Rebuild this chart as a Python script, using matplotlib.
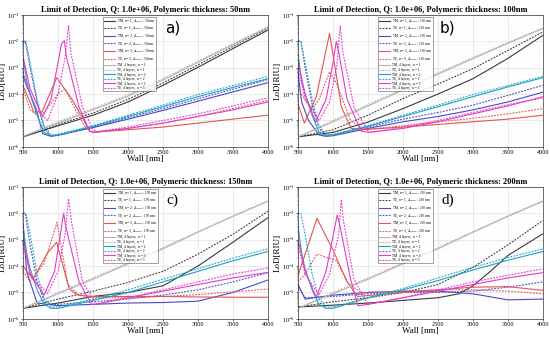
import numpy as np
import matplotlib
matplotlib.use("Agg")
import matplotlib.pyplot as plt
from matplotlib.ticker import LogLocator, NullFormatter

plt.rcParams['font.family'] = ['Liberation Serif', 'DejaVu Serif']
plt.rcParams['mathtext.fontset'] = 'stix'

# wall widths (nm) used for the smooth curves
wall = [500, 1000, 1500, 2000, 2500, 3000, 3500, 4000]
thickness = [50, 100, 150, 200]
panel_tags = ['a)', 'b)', 'c)', 'd)']

# values are log10(LoD [RIU]); each series is (wall, log10 LoD)
# ---- polymeric thickness 50 nm
p50 = {
    'TM1': (wall, [-5.62, -5.2, -4.8, -4.3, -3.67, -2.99, -2.28, -1.58]),
    'TE1': (wall, [-5.62, -5.15, -4.72, -4.2, -3.58, -2.9, -2.2, -1.52]),
    'TM2': ([500, 550, 600, 700, 780, 900, 1000, 1500, 2000, 2500, 3000, 3500, 4000],
            [-3.3, -3.7, -4.0, -4.7, -5.5, -5.6, -5.55, -5.27, -4.95, -4.62, -4.27, -3.92, -3.57]),
    'TE2': ([500, 530, 600, 700, 800, 900, 1000, 1500, 2000, 2500, 3000, 3500, 4000],
            [-2.0, -2.0, -3.0, -4.3, -5.3, -5.6, -5.57, -5.25, -4.9, -4.55, -4.18, -3.82, -3.45]),
    'TM3': ([500, 600, 650, 770, 980, 1200, 1350, 1450, 1500, 2000, 2500, 3000, 3500, 4000],
            [-3.7, -4.3, -4.68, -4.68, -3.38, -4.2, -4.9, -5.4, -5.45, -5.35, -5.25, -5.1, -4.95, -4.8]),
    'TE3': ([500, 600, 700, 800, 1000, 1100, 1250, 1400, 1500, 2000, 2500, 3000, 3500, 4000],
            [-3.8, -4.6, -4.8, -4.7, -4.0, -3.8, -4.6, -5.3, -5.45, -5.3, -5.1, -4.85, -4.55, -4.24]),
    'TM1_4L': (wall, [-5.6, -5.1, -4.6, -4.08, -3.47, -2.8, -2.13, -1.48]),
    'TE1_4L': (wall, [-5.6, -5.05, -4.55, -4.03, -3.42, -2.76, -2.1, -1.45]),
    'TM2_4L': ([500, 550, 600, 700, 800, 900, 1000, 1500, 2000, 2500, 3000, 3500, 4000],
               [-2.6, -3.5, -4.0, -4.8, -5.45, -5.58, -5.55, -5.22, -4.85, -4.48, -4.1, -3.75, -3.42]),
    'TE2_4L': ([500, 540, 600, 700, 800, 900, 1000, 1500, 2000, 2500, 3000, 3500, 4000],
               [-2.1, -2.0, -2.8, -4.2, -5.2, -5.55, -5.52, -5.2, -4.8, -4.42, -4.02, -3.68, -3.33]),
    'TM3_4L': ([500, 600, 700, 780, 900, 1050, 1090, 1120, 1300, 1450, 1500, 2000, 2500, 3000, 3500, 4000],
               [-2.6, -3.8, -4.4, -4.85, -4.2, -2.1, -1.98, -2.6, -4.5, -5.4, -5.45, -5.3, -5.1, -4.85, -4.6, -4.3]),
    'TE3_4L': ([500, 600, 700, 850, 1000, 1100, 1150, 1180, 1350, 1500, 1550, 2000, 2500, 3000, 3500, 4000],
               [-3.2, -4.0, -4.6, -5.0, -4.0, -2.6, -1.4, -2.4, -4.5, -5.35, -5.42, -5.25, -5.0, -4.75, -4.45, -4.14]),
}

# ---- polymeric thickness 100 nm
p100 = {
    'TM1': (wall, [-5.62, -5.45, -5.06, -4.55, -4.0, -3.42, -2.65, -1.78]),
    'TE1': (wall, [-5.62, -5.35, -4.8, -4.17, -3.62, -3.04, -2.35, -1.65]),
    'TM2': ([500, 550, 650, 800, 900, 1000, 1500, 2000, 2500, 3000, 3500, 4000],
            [-3.2, -4.3, -5.0, -5.55, -5.6, -5.58, -5.3, -5.05, -4.85, -4.6, -4.3, -3.93]),
    'TE2': ([500, 540, 600, 700, 800, 900, 1000, 1500, 2000, 2500, 3000, 3500, 4000],
            [-2.0, -2.0, -3.0, -4.4, -5.3, -5.55, -5.55, -5.25, -4.95, -4.7, -4.42, -4.05, -3.67]),
    'TM3': ([500, 590, 760, 950, 1120, 1260, 1400, 2000, 2500, 3000, 3500, 4000],
            [-4.4, -5.1, -4.1, -1.7, -4.5, -5.3, -5.35, -5.25, -5.15, -5.05, -4.95, -4.8]),
    'TE3': ([500, 690, 800, 950, 1050, 1250, 1450, 2000, 2500, 3000, 3500, 4000],
            [-3.8, -4.6, -4.2, -3.16, -3.6, -5.0, -5.35, -5.2, -5.05, -4.92, -4.75, -4.55]),
    'TM1_4L': (wall, [-5.62, -5.05, -4.45, -3.85, -3.25, -2.66, -2.08, -1.52]),
    'TE1_4L': (wall, [-5.62, -5.0, -4.4, -3.8, -3.2, -2.62, -2.05, -1.5]),
    'TM2_4L': ([500, 550, 600, 700, 800, 900, 1000, 1500, 2000, 2500, 3000, 3500, 4000],
               [-2.5, -3.5, -4.0, -4.8, -5.45, -5.58, -5.55, -5.22, -4.85, -4.48, -4.1, -3.73, -3.38]),
    'TE2_4L': ([500, 540, 600, 700, 800, 900, 1000, 1500, 2000, 2500, 3000, 3500, 4000],
               [-2.0, -2.0, -2.8, -4.2, -5.2, -5.55, -5.52, -5.2, -4.8, -4.42, -4.02, -3.68, -3.33]),
    'TM3_4L': ([500, 600, 750, 900, 1000, 1046, 1080, 1200, 1400, 1500, 2000, 2500, 3000, 3500, 4000],
               [-2.8, -4.0, -5.05, -4.2, -2.8, -2.0, -2.4, -4.2, -5.4, -5.45, -5.3, -5.05, -4.75, -4.45, -4.1]),
    'TE3_4L': ([500, 600, 800, 950, 1050, 1103, 1140, 1300, 1500, 1550, 2000, 2500, 3000, 3500, 4000],
               [-3.0, -4.2, -5.0, -4.3, -3.0, -1.43, -2.4, -4.5, -5.4, -5.45, -5.25, -5.0, -4.7, -4.4, -4.15]),
}

# ---- polymeric thickness 150 nm
p150 = {
    'TM1': (wall, [-5.6, -5.4, -5.15, -5.0, -4.75, -4.0, -3.1, -2.17]),
    'TE1': (wall, [-5.6, -5.25, -4.95, -4.62, -4.2, -3.55, -2.8, -1.93]),
    'TM2': ([500, 550, 700, 1000, 1500, 2000, 2500, 3000, 3500, 4000],
            [-2.4, -4.2, -5.4, -5.5, -5.45, -5.4, -5.38, -5.33, -5.0, -4.53]),
    'TE2': ([500, 530, 600, 700, 800, 900, 1000, 1500, 2000, 2500, 3000, 3500, 4000],
            [-2.0, -2.0, -3.2, -4.6, -5.3, -5.45, -5.45, -5.35, -5.25, -5.1, -4.9, -4.6, -4.25]),
    'TM3': ([500, 640, 850, 980, 1160, 1285, 1500, 2000, 2500, 3000, 3500, 4000],
            [-4.0, -4.5, -3.5, -3.1, -4.87, -5.1, -5.15, -5.15, -5.15, -5.17, -5.18, -5.18]),
    'TE3': ([500, 600, 800, 985, 1140, 1300, 1500, 2000, 2500, 3000, 3500, 4000],
            [-4.2, -4.6, -3.9, -2.35, -4.7, -5.1, -5.2, -5.2, -5.15, -5.08, -4.98, -4.87]),
    'TM1_4L': (wall, [-5.6, -5.05, -4.5, -3.92, -3.35, -2.72, -2.12, -1.55]),
    'TE1_4L': (wall, [-5.6, -5.0, -4.45, -3.88, -3.3, -2.7, -2.1, -1.53]),
    'TM2_4L': ([500, 550, 600, 700, 800, 900, 1000, 1500, 2000, 2500, 3000, 3500, 4000],
               [-2.5, -3.5, -4.1, -4.9, -5.45, -5.6, -5.6, -5.3, -5.0, -4.6, -4.2, -3.8, -3.45]),
    'TE2_4L': ([500, 540, 600, 700, 800, 900, 1000, 1500, 2000, 2500, 3000, 3500, 4000],
               [-2.0, -2.0, -2.8, -4.3, -5.25, -5.55, -5.55, -5.25, -4.9, -4.5, -4.1, -3.7, -3.35]),
    'TM3_4L': ([500, 600, 800, 950, 1080, 1110, 1300, 1480, 1520, 2000, 2500, 3000, 3500, 4000],
               [-3.0, -4.3, -5.1, -4.2, -2.0, -2.5, -4.6, -5.45, -5.45, -5.2, -4.95, -4.7, -4.45, -4.24]),
    'TE3_4L': ([500, 600, 850, 1000, 1100, 1150, 1190, 1350, 1550, 2000, 2500, 3000, 3500, 4000],
               [-3.2, -4.3, -5.05, -4.2, -2.8, -1.45, -2.3, -4.6, -5.45, -5.2, -4.9, -4.6, -4.3, -4.07]),
}

# ---- polymeric thickness 200 nm
p200 = {
    'TM1': ([500, 1000, 1500, 2000, 2500, 2800, 3000, 3250, 3500, 4000],
            [-5.55, -5.48, -5.4, -5.3, -5.2, -5.05, -4.75, -4.2, -3.6, -2.78]),
    'TE1': (wall, [-5.55, -5.35, -5.2, -5.0, -4.7, -4.05, -3.2, -2.28]),
    'TM2': ([500, 600, 1000, 1500, 2000, 2500, 3000, 3500, 4000],
            [-4.7, -5.25, -5.1, -5.0, -4.95, -4.95, -5.05, -5.28, -5.25]),
    'TE2': ([500, 600, 1000, 1500, 2000, 2500, 3000, 3500, 4000],
            [-4.8, -5.2, -5.15, -5.05, -5.0, -5.0, -4.95, -4.8, -4.6]),
    'TM3': ([500, 770, 1000, 1200, 1350, 2000, 2500, 3000, 3500, 4000],
            [-4.35, -2.2, -3.4, -4.6, -5.15, -5.0, -4.9, -4.8, -4.78, -4.92]),
    'TE3': ([500, 600, 770, 1050, 1215, 1400, 2000, 2500, 3000, 3500, 4000],
            [-4.6, -4.3, -3.55, -3.8, -4.65, -5.0, -4.95, -4.9, -4.9, -4.95, -5.05]),
    'TM1_4L': (wall, [-5.6, -5.05, -4.5, -3.92, -3.35, -2.72, -2.12, -1.55]),
    'TE1_4L': (wall, [-5.6, -5.0, -4.45, -3.88, -3.3, -2.7, -2.1, -1.53]),
    'TM2_4L': ([500, 550, 600, 700, 800, 900, 1000, 1500, 2000, 2500, 3000, 3500, 4000],
               [-2.5, -3.5, -4.1, -4.9, -5.45, -5.6, -5.6, -5.2, -4.9, -4.55, -4.15, -3.78, -3.45]),
    'TE2_4L': ([500, 540, 600, 700, 800, 900, 1000, 1500, 2000, 2500, 3000, 3500, 4000],
               [-2.0, -2.0, -2.8, -4.3, -5.25, -5.55, -5.55, -5.2, -4.85, -4.45, -4.05, -3.68, -3.35]),
    'TM3_4L': ([500, 600, 760, 900, 1060, 1100, 1250, 1357, 1500, 2000, 2500, 3000, 3500, 4000],
               [-3.0, -4.2, -5.18, -4.2, -2.06, -2.5, -4.5, -5.5, -5.45, -5.2, -4.95, -4.7, -4.45, -4.25]),
    'TE3_4L': ([500, 600, 800, 950, 1080, 1118, 1150, 1300, 1500, 2000, 2500, 3000, 3500, 4000],
               [-3.2, -4.3, -5.1, -4.3, -2.8, -1.48, -2.3, -4.5, -5.45, -5.2, -4.9, -4.6, -4.35, -4.1]),
}

panels = [p50, p100, p150, p200]

# key, legend label template, colour, linestyle
dots = (0, (1.6, 1.2))
styles = [
    ('TM1', 'TM, n = 1, $\\Delta_{SLOT}$: {t} nm', '#3a3a3a', '-'),
    ('TE1', 'TE, n = 1, $\\Delta_{SLOT}$: {t} nm', '#3a3a3a', dots),
    ('TM2', 'TM, n = 2, $\\Delta_{SLOT}$: {t} nm', '#4a4ac8', '-'),
    ('TE2', 'TE, n = 2, $\\Delta_{SLOT}$: {t} nm', '#4a4ac8', dots),
    ('TM3', 'TM, n = 3, $\\Delta_{SLOT}$: {t} nm', '#e25555', '-'),
    ('TE3', 'TE, n = 3, $\\Delta_{SLOT}$: {t} nm', '#e25555', dots),
    ('TM1_4L', 'TM, 4 layers,  n = 1', '#b4b4b4', '-'),
    ('TE1_4L', 'TE, 4 layers,  n = 1', '#b4b4b4', dots),
    ('TM2_4L', 'TM, 4 layers,  n = 2', '#1fa3c4', '-'),
    ('TE2_4L', 'TE, 4 layers,  n = 2', '#1fa3c4', dots),
    ('TM3_4L', 'TM, 4 layers,  n = 3', '#e43ccc', '-'),
    ('TE3_4L', 'TE, 4 layers,  n = 3', '#e43ccc', dots),
]

fig = plt.figure(figsize=(5.5, 3.44), dpi=100)
boxes = [
    [0.042, 0.573, 0.445, 0.384],
    [0.542, 0.573, 0.445, 0.384],
    [0.042, 0.073, 0.445, 0.384],
    [0.542, 0.073, 0.445, 0.384],
]

for i, data in enumerate(panels):
    ax = fig.add_axes(boxes[i])
    t = thickness[i]
    for key, lab, col, ls in styles:
        xs, ly = data[key]
        ax.semilogy(xs, 10.0 ** np.array(ly), color=col, linestyle=ls, lw=0.8,
                    label=lab.replace('{t}', str(t)))
    ax.set_xlim(500, 4000)
    ax.set_ylim(1e-6, 1e-1)
    ax.set_xticks(range(500, 4001, 500))
    ax.yaxis.set_major_locator(LogLocator(base=10, numticks=10))
    ax.yaxis.set_minor_locator(LogLocator(base=10, subs=np.arange(2, 10), numticks=20))
    ax.yaxis.set_minor_formatter(NullFormatter())
    ax.tick_params(labelsize=4.5, length=1.5, width=0.4, pad=1)
    ax.tick_params(which='minor', length=0.8, width=0.3)
    ax.grid(True, which='major', color='#d8d8d8', lw=0.4)
    ax.grid(True, which='minor', color='#ececec', lw=0.3, linestyle=':')
    for sp in ax.spines.values():
        sp.set_linewidth(0.5)
        sp.set_color('#333333')
    ax.set_title('Limit of Detection, Q: 1.0e+06, Polymeric thickness: %dnm' % t,
                 fontsize=6, fontweight='bold', pad=2)
    ax.set_xlabel('Wall [nm]', fontsize=6.5, labelpad=0)
    ax.set_ylabel('LoD[RIU]', fontsize=6.5, labelpad=0)
    leg = ax.legend(loc='upper left', bbox_to_anchor=(0.32, 1.0), fontsize=2.6,
                    handlelength=3.0, handletextpad=0.4, borderpad=0.3,
                    labelspacing=0.12, frameon=True, fancybox=False)
    leg.get_frame().set_linewidth(0.4)
    leg.get_frame().set_edgecolor('#333333')
    fam = 'DejaVu Sans' if i < 2 else 'Liberation Serif'
    ax.text(0.61, 0.9, panel_tags[i], transform=ax.transAxes, fontsize=11,
            ha='center', va='center', family=fam)

fig.savefig('out.png', dpi=100)
